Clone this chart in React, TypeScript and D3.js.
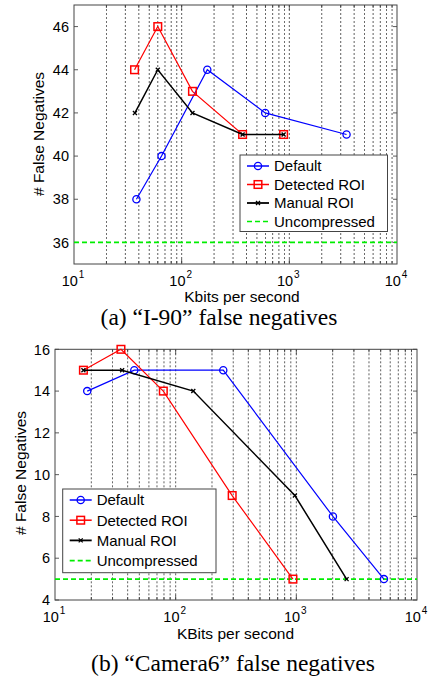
import * as d3 from "d3";

// ---- panel (a) "I-90" ----
const topDefaultX = [38, 65, 173, 597, 3400];
const topDefaultY = [38, 40, 44, 42, 41];
const topDetectedX = [36.5, 60, 126, 368, 885];
const topDetectedY = [44, 46, 43, 41, 41];
const topManualX = [36.8, 60, 126, 368, 885];
const topManualY = [42, 44, 42, 41, 41];
const topUncompressed = 36;
const topYTicks = [36, 38, 40, 42, 44, 46];

// ---- panel (b) "Camera6" ----
const botDefaultX = [18.5, 45.4, 248, 2010, 5320];
const botDefaultY = [14, 15, 15, 8, 5];
const botDetectedX = [17.2, 35.2, 79, 294, 937];
const botDetectedY = [15, 16, 14, 9, 5];
const botManualX = [17.2, 36, 140, 973, 2610];
const botManualY = [15, 15, 14, 9, 5];
const botUncompressed = 5;
const botYTicks = [4, 6, 8, 10, 12, 14, 16];

const xDecades = [1, 2, 3, 4];
const legendNames = ["Default", "Detected ROI", "Manual ROI", "Uncompressed"];

const BLUE = "#0000ff";
const RED = "#ff0000";
const GREEN = "#00ee00";
const FONT = "Arial, 'Liberation Sans', Helvetica, sans-serif";
const SERIF = "'Times New Roman', 'Liberation Serif', serif";

type PanelProps = {
  box: { left: number; right: number; top: number; bottom: number };
  yDomain: [number, number];
  yTicks: number[];
  series: { x: number[]; y: number[] }[];
  uncompressed: number;
  legend: { x: number; y: number; w: number; h: number; row: number };
  xLabel: string;
  xLabelPos: [number, number];
  yLabelPos: [number, number];
  caption: string;
  captionPos: [number, number];
};

function Marker({ kind, cx, cy }: { kind: number; cx: number; cy: number }) {
  if (kind === 0)
    return <circle cx={cx} cy={cy} r={3.6} fill="none" stroke={BLUE} strokeWidth={1.3} />;
  if (kind === 1)
    return <rect x={cx - 3.8} y={cy - 3.8} width={7.6} height={7.6} fill="none" stroke={RED} strokeWidth={1.5} />;
  return (
    <path
      d={`M${cx - 2},${cy - 2}L${cx + 2},${cy + 2}M${cx - 2},${cy + 2}L${cx + 2},${cy - 2}`}
      stroke="#000"
      strokeWidth={1.3}
    />
  );
}

function Panel(p: PanelProps) {
  const { box } = p;
  const x = d3.scaleLog().domain([10, 10000]).range([box.left, box.right]);
  const y = d3.scaleLinear().domain(p.yDomain).range([box.bottom, box.top]);
  const minor = x.ticks().filter((t) => t > 10 && t < 10000);
  const colors = [BLUE, RED, "#000"];
  const widths = [1.2, 1.2, 1.5];
  const line = d3
    .line<[number, number]>()
    .x((d) => x(d[0]))
    .y((d) => y(d[1]));

  return (
    <g fontFamily={FONT}>
      {/* grid */}
      {minor.map((t) => (
        <line
          key={"g" + t}
          x1={x(t)}
          x2={x(t)}
          y1={box.top}
          y2={box.bottom}
          stroke="#222"
          strokeWidth={0.8}
          strokeDasharray="2,2"
          opacity={0.9}
        />
      ))}
      {/* ticks */}
      {minor.map((t) => {
        const len = Number.isInteger(Math.log10(t)) ? 5 : 3;
        return (
          <g key={"t" + t} stroke="#333" strokeWidth={0.8}>
            <line x1={x(t)} x2={x(t)} y1={box.bottom} y2={box.bottom - len} />
            <line x1={x(t)} x2={x(t)} y1={box.top} y2={box.top + len} />
          </g>
        );
      })}
      {p.yTicks.map((t) => (
        <g key={"y" + t}>
          <line x1={box.left} x2={box.left + 4} y1={y(t)} y2={y(t)} stroke="#333" strokeWidth={0.8} />
          <line x1={box.right} x2={box.right - 4} y1={y(t)} y2={y(t)} stroke="#333" strokeWidth={0.8} />
          <text x={box.left - 5} y={y(t)} dy="0.36em" textAnchor="end" fontSize={14.5}>
            {t}
          </text>
        </g>
      ))}
      {xDecades.map((e) => (
        <text key={"x" + e} x={x(Math.pow(10, e)) - 1} y={box.bottom + 22} textAnchor="middle" fontSize={14.5}>
          10
          <tspan dx={1} dy={-8} fontSize={10}>
            {e}
          </tspan>
        </text>
      ))}
      <rect
        x={box.left}
        y={box.top}
        width={box.right - box.left}
        height={box.bottom - box.top}
        fill="none"
        stroke="#444"
        strokeWidth={1}
      />
      {/* uncompressed */}
      <line
        x1={box.left}
        x2={box.right}
        y1={y(p.uncompressed)}
        y2={y(p.uncompressed)}
        stroke={GREEN}
        strokeWidth={1.6}
        strokeDasharray="5,3"
      />
      {/* series */}
      {p.series.map((s, i) => {
        const pts = s.x.map((v, j) => [v, s.y[j]] as [number, number]);
        return (
          <g key={"s" + i}>
            <path d={line(pts) ?? ""} fill="none" stroke={colors[i]} strokeWidth={widths[i]} />
            {pts.map((d, j) => (
              <Marker key={j} kind={i} cx={x(d[0])} cy={y(d[1])} />
            ))}
          </g>
        );
      })}
      {/* legend */}
      <rect
        x={p.legend.x}
        y={p.legend.y}
        width={p.legend.w}
        height={p.legend.h}
        fill="#fff"
        stroke="#444"
        strokeWidth={1}
      />
      {legendNames.map((name, i) => {
        const cy = p.legend.y + 11 + i * p.legend.row;
        const lx = p.legend.x + 7;
        const mid = lx + 11;
        return (
          <g key={name}>
            {i < 3 ? (
              <>
                <line x1={lx} x2={lx + 22} y1={cy} y2={cy} stroke={colors[i]} strokeWidth={widths[i] + 0.3} />
                <Marker kind={i} cx={mid} cy={cy} />
              </>
            ) : (
              <line x1={lx} x2={lx + 22} y1={cy} y2={cy} stroke={GREEN} strokeWidth={1.6} strokeDasharray="5,3" />
            )}
            <text x={lx + 27} y={cy} dy="0.36em" fontSize={15}>
              {name}
            </text>
          </g>
        );
      })}
      <text x={p.xLabelPos[0]} y={p.xLabelPos[1]} textAnchor="middle" fontSize={15.5}>
        {p.xLabel}
      </text>
      <text
        transform={`translate(${p.yLabelPos[0]},${p.yLabelPos[1]}) rotate(-90)`}
        textAnchor="middle"
        dy="0.36em"
        fontSize={15.5}
      >
        # False Negatives
      </text>
      <text x={p.captionPos[0]} y={p.captionPos[1]} textAnchor="middle" fontFamily={SERIF} fontSize={23.5}>
        {p.caption}
      </text>
    </g>
  );
}

export default function App() {
  return (
    <div style={{ position: "absolute", left: 0, top: 0 }}>
      <svg width={431} height={680} style={{ display: "block", background: "#fff" }}>
        <Panel
          box={{ left: 74, right: 397, top: 5, bottom: 264 }}
          yDomain={[35, 47]}
          yTicks={topYTicks}
          series={[
            { x: topDefaultX, y: topDefaultY },
            { x: topDetectedX, y: topDetectedY },
            { x: topManualX, y: topManualY },
          ]}
          uncompressed={topUncompressed}
          legend={{ x: 240, y: 155, w: 147.5, h: 76.5, row: 18.5 }}
          xLabel="Kbits per second"
          xLabelPos={[242, 302]}
          yLabelPos={[38, 134]}
          caption="(a) “I-90” false negatives"
          captionPos={[219, 325]}
        />
        <Panel
          box={{ left: 55, right: 417, top: 349.3, bottom: 600 }}
          yDomain={[4, 16]}
          yTicks={botYTicks}
          series={[
            { x: botDefaultX, y: botDefaultY },
            { x: botDetectedX, y: botDetectedY },
            { x: botManualX, y: botManualY },
          ]}
          uncompressed={botUncompressed}
          legend={{ x: 62.7, y: 489, w: 153.3, h: 83.7, row: 20.2 }}
          xLabel="KBits per second"
          xLabelPos={[235.5, 639]}
          yLabelPos={[20, 473]}
          caption="(b) “Camera6” false negatives"
          captionPos={[233, 670.5]}
        />
      </svg>
    </div>
  );
}
